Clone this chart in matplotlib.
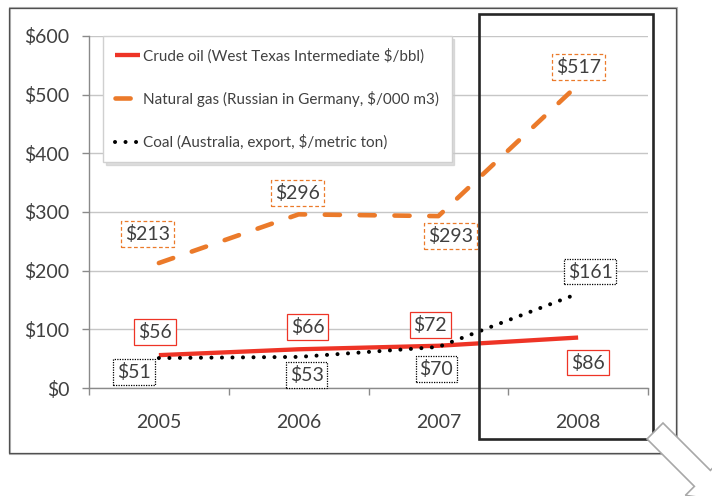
import numpy as np
import matplotlib
matplotlib.use("Agg")
import matplotlib.pyplot as plt
from matplotlib.patches import Rectangle, Polygon
from matplotlib.transforms import IdentityTransform

plt.rcParams["font.family"] = ["Lato", "DejaVu Sans"]

years = ["2005", "2006", "2007", "2008"]
crude = [56, 66, 72, 86]
gas = [213, 296, 293, 517]
coal = [51, 53, 70, 161]
y_ticks = [0, 100, 200, 300, 400, 500, 600]

crude_label = "Crude oil (West Texas Intermediate $/bbl)"
gas_label = "Natural gas (Russian in Germany, $/000 m3)"
coal_label = "Coal (Australia, export, $/metric ton)"

RED = "#EE3426"
ORANGE = "#EB7A2A"
TXT = "#404040"

W, H = 712, 496
fig = plt.figure(figsize=(W / 100, H / 100), dpi=100)
ax = fig.add_axes([89 / W, 1 - 388 / H, (648 - 89) / W, (388 - 36) / H])

x = np.arange(len(years))

ax.plot(x, crude, color=RED, lw=3.1, solid_capstyle="butt", label=crude_label, zorder=3)
ax.plot(x, gas, color=ORANGE, lw=3.3, linestyle=(0, (3.3, 4.3)),
        dash_capstyle="round", label=gas_label, zorder=3)
ax.plot(x, coal, color="black", lw=2.9, linestyle=(0, (0.01, 2.6)),
        dash_capstyle="round", label=coal_label, zorder=4)

# data labels (offsets in pixels from the point)
crude_off = [(-4, 23), (9, 22), (-8, 21), (10, -25)]
gas_off = [(-11, 29), (-1, 21), (12, -20), (0, 18)]
coal_off = [(-25, -14), (8, -18), (-2, -22), (12, 22)]

def add_labels(vals, offs, ec, ls):
    for xi, v, (dx, dy) in zip(x, vals, offs):
        ax.annotate(f"${v}", (xi, v), xytext=(dx, dy), textcoords="offset pixels",
                    ha="center", va="center", fontsize=14, color=TXT, zorder=6,
                    bbox=dict(boxstyle="square,pad=0.2", fc="white", ec=ec,
                              lw=0.9, ls=ls))

add_labels(crude, crude_off, RED, "-")
add_labels(gas, gas_off, ORANGE, (0, (3, 2)))
add_labels(coal, coal_off, "black", (0, (1, 1)))

ax.set_xlim(-0.5, 3.5)
ax.set_ylim(0, 600)
ax.set_yticks(y_ticks)
ax.set_yticklabels([f"${t}" for t in y_ticks])
ax.set_xticks(np.arange(-0.5, 4, 1))
ax.set_xticklabels([])
ax.set_xticks(x, minor=True)
ax.set_xticklabels(years, minor=True)
ax.tick_params(axis="x", which="major", length=5, color="#8a8a8a", width=1)
ax.tick_params(axis="x", which="minor", length=0, pad=19, labelsize=14, labelcolor=TXT)
ax.tick_params(axis="y", length=5, color="#8a8a8a", width=1, pad=9,
               labelsize=14, labelcolor=TXT)
ax.grid(axis="y", color="#c6c6c6", lw=1)
ax.set_axisbelow(True)
for s in ["top", "right"]:
    ax.spines[s].set_visible(False)
for s in ["left", "bottom"]:
    ax.spines[s].set_color("#8a8a8a")
    ax.spines[s].set_linewidth(1)

leg = ax.legend(loc="upper left", bbox_to_anchor=(103 / W, 1 - 36 / H),
                bbox_transform=fig.transFigure, borderaxespad=0, fontsize=11,
                labelspacing=1.78, handlelength=1.6, handletextpad=0.25,
                borderpad=0.8, fancybox=False, frameon=True, framealpha=1,
                edgecolor="#d0d0d0", labelcolor=TXT,
                shadow={"color": "#c8c8c8", "alpha": 0.6, "ox": 2, "oy": -2})
leg.set_zorder(7)

# outer chart frame
fig.patches.append(Rectangle((10 / W, 1 - 454 / H), (677 - 10) / W, (454 - 8) / H,
                             transform=fig.transFigure, fill=False, ec="#b5b5b5", lw=1.5))
fig.patches.append(Rectangle((9 / W, 1 - 453 / H), (676 - 9) / W, (453 - 8) / H,
                             transform=fig.transFigure, fill=False, ec="#505050", lw=0.9))

# highlight box around 2008
fig.patches.append(Rectangle((479 / W, 1 - 439 / H), (653 - 479) / W, (439 - 14) / H,
                             transform=fig.transFigure, fill=False, ec="#262626",
                             lw=1.9, zorder=8))

# hollow block arrow, bottom right
c0 = np.array([655.0, 431.0])
d = np.array([1.0, 1.0]) / np.sqrt(2)
n = np.array([1.0, -1.0]) / np.sqrt(2)
sw, hw, L, hl = 11.3, 24, 67, 32
pts = [c0 + sw * n, c0 + sw * n + L * d, c0 + hw * n + L * d, c0 + (L + hl) * d,
       c0 - hw * n + L * d, c0 - sw * n + L * d, c0 - sw * n]
pts = [(p[0], H - p[1]) for p in pts]
fig.patches.append(Polygon(pts, closed=True, transform=IdentityTransform(),
                           fc="white", ec="#a8a8a8", lw=1.2, zorder=9))

fig.savefig("out.png", dpi=100)
